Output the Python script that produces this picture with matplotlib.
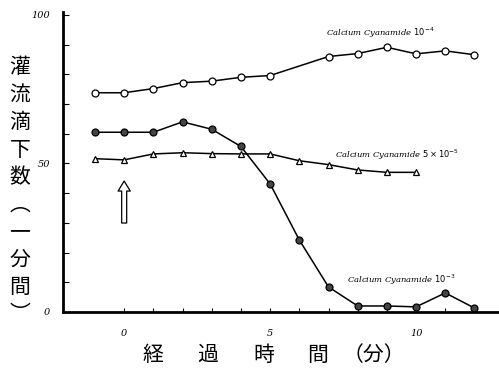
import matplotlib
matplotlib.use('Agg')
from matplotlib import pyplot as plt

plt.rcParams['font.family'] = ['Noto Sans CJK JP', 'DejaVu Sans']

# Drip counts per minute
time_1e4 = [-1, 0, 1, 2, 3, 4, 5, 7, 8, 9, 10, 11, 12]
drops_1e4 = [73.8, 73.8, 75.2, 77.2, 77.7, 79.0, 79.6, 86.0, 87.0, 89.1, 86.9, 87.9, 86.6]

time_5e5 = [-1, 0, 1, 2, 3, 4, 5, 6, 7, 8, 9, 10]
drops_5e5 = [51.6, 51.2, 53.2, 53.6, 53.3, 53.2, 53.2, 50.9, 49.6, 47.8, 47.0, 47.0]

time_1e3 = [-1, 0, 1, 2, 3, 4, 5, 6, 7, 8, 9, 10, 11, 12]
drops_1e3 = [60.5, 60.5, 60.5, 64.0, 61.5, 55.7, 43.1, 24.2, 8.4, 2.0, 2.0, 1.7, 6.4, 1.3]

x_ticks = list(range(0, 13))
x_labels = ['0' if t == 0 else '5' if t == 5 else '10' if t == 10 else '' for t in x_ticks]
y_ticks = list(range(0, 101, 10))
y_labels = [str(v) if v in (0, 50, 100) else '' for v in y_ticks]

y_title = '灌流滴下数︵一分間︶'
x_title_parts = ['経', '過', '時', '間', '（分）']

fig = plt.figure(figsize=(4.99, 3.74), dpi=100)
ax = fig.add_axes([0.126, 0.166, 0.874, 0.802])

line_kw = dict(color='black', linewidth=1.1, markersize=5, markeredgewidth=0.9)
ax.plot(time_1e4, drops_1e4, marker='o', markerfacecolor='white', **line_kw)
ax.plot(time_5e5, drops_5e5, marker='^', markerfacecolor='white', **line_kw)
ax.plot(time_1e3, drops_1e3, marker='o', markerfacecolor='#444444', **line_kw)

ax.set_xlim(-2.1, 12.84)
ax.set_ylim(0, 101)

for s in ('top', 'right'):
    ax.spines[s].set_visible(False)
for s in ('left', 'bottom'):
    ax.spines[s].set_linewidth(2)

ax.set_xticks(x_ticks)
ax.set_xticklabels(x_labels, fontstyle='italic', family='DejaVu Serif')
ax.set_yticks(y_ticks)
ax.set_yticklabels(y_labels, fontstyle='italic', family='DejaVu Serif')
ax.tick_params(axis='x', direction='in', length=3, pad=12, labelsize=7)
ax.tick_params(axis='y', direction='in', length=4, pad=9, labelsize=7)

# Hand-written series labels
note_kw = dict(fontsize=6, fontstyle='italic', family='DejaVu Serif', va='center', ha='left')
ax.text(6.92, 94, r'Calcium Cyanamide $10^{-4}$', **note_kw)
ax.text(7.23, 52.9, r'Calcium Cyanamide $5\times10^{-5}$', **note_kw)
ax.text(7.64, 10.8, r'Calcium Cyanamide $10^{-3}$', **note_kw)

# Injection arrow
ax.annotate('', xy=(0, 45), xytext=(0, 29),
            arrowprops=dict(arrowstyle='simple,head_width=1.1,head_length=0.9,tail_width=0.45',
                            mutation_scale=8, facecolor='white', edgecolor='black', linewidth=0.9))

fig.text(0.04, 0.49, '\n'.join(y_title), fontsize=15, ha='center', va='center', linespacing=1.32)
for xf, part in zip([0.307, 0.417, 0.529, 0.637, 0.75], x_title_parts):
    fig.text(xf, 0.052, part, fontsize=15, ha='center', va='center')

fig.savefig('out.png', dpi=100)
